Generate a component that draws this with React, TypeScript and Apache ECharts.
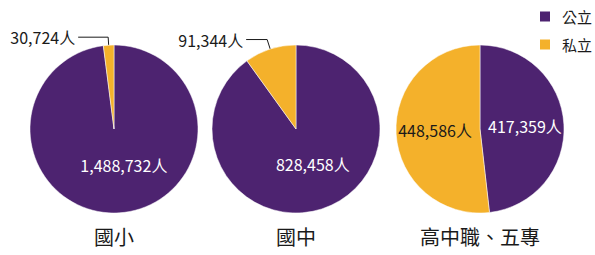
import React, { useEffect, useRef } from "react";
import * as echarts from "echarts";

const categories = ["國小", "國中", "高中職、五專"];
const seriesNames = ["公立", "私立"];
const publicValues = [1488732, 828458, 417359];
const privateValues = [30724, 91344, 448586];

const PURPLE = "#4d2370";
const ORANGE = "#f4b12b";
const FONT = "'Noto Sans CJK TC', 'Noto Sans', sans-serif";

const centers = [114, 296, 480];

function fmt(v: number) {
  return v.toLocaleString("en-US") + "人";
}

export default function App() {
  const ref = useRef<HTMLDivElement>(null);
  useEffect(() => {
    if (!ref.current) return;
    const chart = echarts.init(ref.current, undefined, { renderer: "svg" });

    const publicOffsets: number[][] = [[7, -9], [3, -8], [0, 0]];
    const series = categories.map((cat, i) => {
      const privInside = i === 2;
      return {
        type: "pie",
        name: cat,
        center: [centers[i], 129],
        radius: [0, 84],
        startAngle: 90,
        clockwise: true,
        avoidLabelOverlap: false,
        silent: true,
        itemStyle: { borderColor: "#ffffff", borderWidth: 0.5 },
        data: [
          {
            name: seriesNames[0],
            value: publicValues[i],
            itemStyle: { color: PURPLE },
            label: {
              show: true,
              position: "inside",
              color: "#ffffff",
              fontSize: 16,
              fontFamily: FONT,
              offset: publicOffsets[i],
              formatter: (p: any) => fmt(p.value),
            },
          },
          {
            name: seriesNames[1],
            value: privateValues[i],
            itemStyle: { color: ORANGE },
            label: privInside
              ? {
                  show: true,
                  position: "inside",
                  color: "#1a1a1a",
                  fontSize: 16,
                  fontFamily: FONT,
                  offset: [0, -2],
                  formatter: (p: any) => fmt(p.value),
                }
              : {
                  show: true,
                  position: "outside",
                  color: "#1a1a1a",
                  fontSize: 16,
                  fontFamily: FONT,
                  distanceToLabelLine: 3,
                  formatter: (p: any) => fmt(p.value),
                },
            labelLine: privInside
              ? { show: false }
              : {
                  show: true,
                  length: i === 0 ? 8 : 10,
                  length2: i === 0 ? 30 : 21,
                  smooth: false,
                  lineStyle: { color: "#1a1a1a", width: 1 },
                },
          },
        ],
      };
    });

    chart.setOption({
      animation: false,
      textStyle: { fontFamily: FONT },
      legend: {
        data: seriesNames,
        orient: "vertical",
        left: 538,
        top: 9,
        padding: 0,
        icon: "rect",
        itemWidth: 12,
        itemHeight: 12,
        itemGap: 13,
        selectedMode: false,
        textStyle: { fontSize: 15, color: "#1a1a1a", fontFamily: FONT, padding: [0, 0, 0, 6] },
      },
      title: categories.map((cat, i) => ({
        text: cat,
        left: centers[i],
        top: 226,
        padding: 0,
        textAlign: "center",
        textStyle: { fontSize: 20, fontWeight: "normal", color: "#1a1a1a", fontFamily: FONT },
      })),
      series,
    });
    return () => chart.dispose();
  }, []);
  return (
    <div
      ref={ref}
      style={{ position: "fixed", left: 0, top: 0, width: 595, height: 255, background: "#fff" }}
    />
  );
}
